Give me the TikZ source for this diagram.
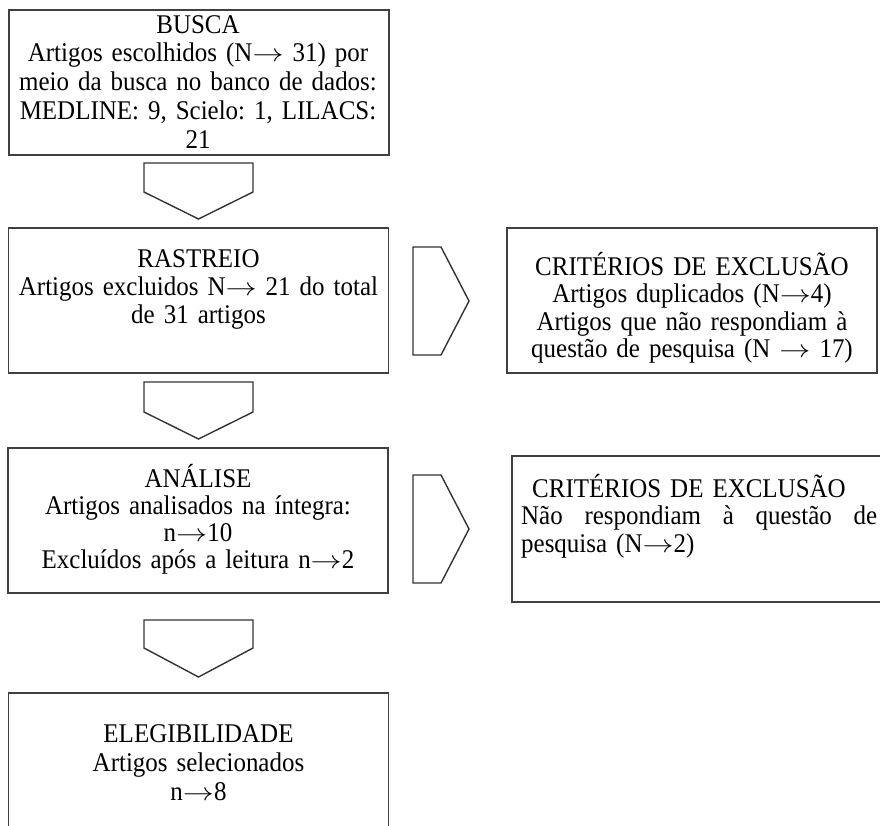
\documentclass[tikz,border=0pt]{standalone}
\usepackage{fontspec}
\setmainfont{Liberation Serif}[FakeStretch=0.925]
\usetikzlibrary{positioning}
\newcommand{\seta}{\scalebox{1.25}[1]{$\rightarrow$}}
\tikzset{
	box/.style={draw=black!75, line width=1.5pt, minimum width=380pt, minimum height=145pt, inner sep=0pt},
	txt/.style={align=center, inner sep=0pt, anchor=base, text width=370pt, font=\fontsize{27}{28}\selectfont\frenchspacing},
	blockarrow/.style={draw=black!80, line width=1.4pt}
}
\begin{document}
\begin{tikzpicture}[x=1pt, y=-1pt]
		\useasboundingbox (0,0) rectangle (880,825);
		\clip (0,0) rectangle (880,825);
		\node[box] (busca) at (199,82.5) {};
		\node[box] (rastreio) at (198.5,300.5) {};
		\node[box] (analise) at (198,520.5) {};
		\node[box] (elegib) at (198.5,765.5) {};
		\node[box, minimum width=370pt] (crit1) at (692,300.5) {};
		\node[box, minimum height=146pt] (crit2) at (702,529) {};
		\node[txt, font=\fontsize{27}{28.8}\selectfont\frenchspacing] (buscaT) at (198,33) {BUSCA\\Artigos escolhidos (N\seta{} 31) por\\meio da busca no banco de dados:\\MEDLINE: 9, Scielo: 1, LILACS:\\21};
		\node[txt] (rastreioT) at (198.5,267) {RASTREIO\\Artigos excluidos N\seta{} 21 do total\\de 31 artigos};
		\node[txt, font=\fontsize{27}{27.5}\selectfont\frenchspacing] (crit1T) at (692,275) {CRITÉRIOS DE EXCLUSÃO\\Artigos duplicados (N\seta4)\\Artigos que não respondiam à\\questão de pesquisa (N \seta{} 17)};
		\node[txt, font=\fontsize{27}{27}\selectfont\frenchspacing] (analiseT) at (198,487) {ANÁLISE\\Artigos analisados na íntegra:\\n\seta10\\Excluídos após a leitura n\seta2};
		\node[txt, anchor=base west, align=left, text width=356pt, font=\fontsize{27}{27.5}\selectfont\frenchspacing] (crit2T) at (521,497) {\hspace*{11pt}CRITÉRIOS DE EXCLUSÃO\\\makebox[356pt]{Não\hfill respondiam\hfill à\hfill questão\hfill de}\\pesquisa (N\seta2)};
		\node[txt, font=\fontsize{27}{29}\selectfont\frenchspacing] (elegibT) at (198.5,742) {ELEGIBILIDADE\\Artigos selecionados\\n\seta8};
		% setas
		\foreach \t/\s/\p in {163/192/219, 382/412/439, 620/648/677}
			\draw[blockarrow] (144,\s) -- (144,\t) -- (253,\t) -- (253,\s) -- (198.5,\p) -- cycle;
		\foreach \t/\b in {247/355, 475/583}
			\draw[blockarrow] (441,\t) -- (413,\t) -- (413,\b) -- (441,\b) -- (469,{(\t+\b)/2}) -- cycle;
	\end{tikzpicture}
\end{document}
